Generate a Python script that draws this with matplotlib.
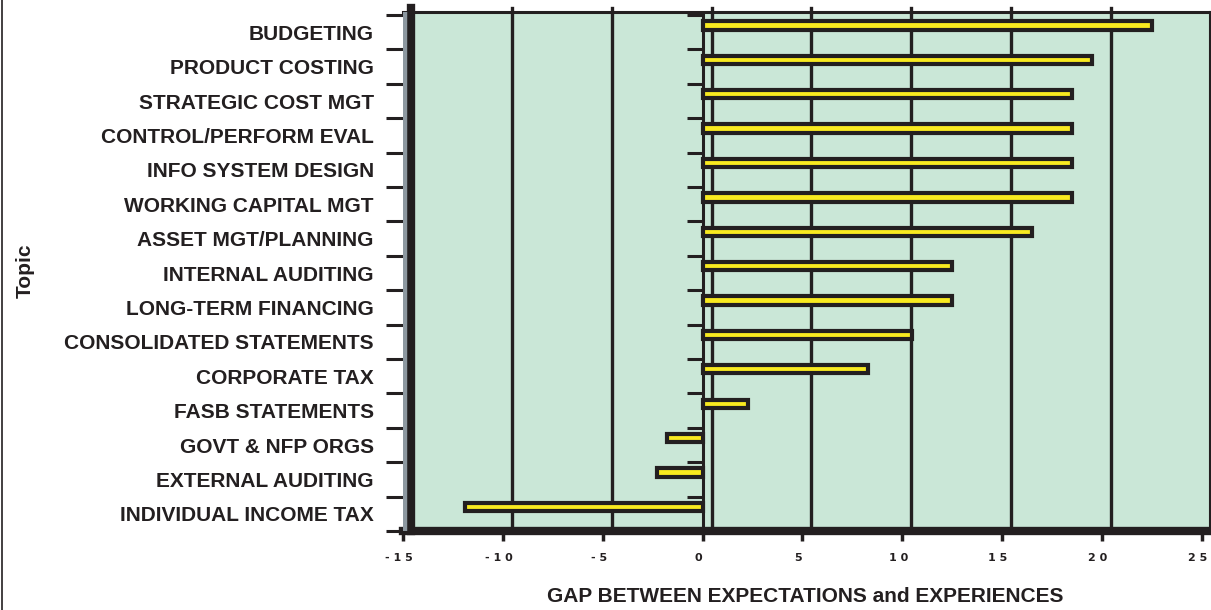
import matplotlib
matplotlib.use("Agg")
import matplotlib.pyplot as plt
from matplotlib import font_manager
from matplotlib.lines import Line2D
import matplotlib.transforms as mtransforms

topics = [
    "BUDGETING", "PRODUCT COSTING", "STRATEGIC COST MGT", "CONTROL/PERFORM EVAL",
    "INFO SYSTEM DESIGN", "WORKING CAPITAL MGT", "ASSET MGT/PLANNING",
    "INTERNAL AUDITING", "LONG-TERM FINANCING", "CONSOLIDATED STATEMENTS",
    "CORPORATE TAX", "FASB STATEMENTS", "GOVT & NFP ORGS", "EXTERNAL AUDITING",
    "INDIVIDUAL INCOME TAX",
]
gap = [22.5, 19.5, 18.5, 18.5, 18.5, 18.5, 16.5, 12.5, 12.5, 10.5,
       8.3, 2.3, -1.8, -2.3, -11.9]
x_ticks = [-15, -10, -5, 0, 5, 10, 15, 20, 25]
x_tick_labels = ["- 1 5", "- 1 0", "- 5", "0", "5", "1 0", "1 5", "2 0", "2 5"]

INK = "#231f20"
WALL = "#cae7d7"
BAR = "#f9ea1f"
DEPTH = 0.45  # back-wall offset of the pseudo-3D grid

names = {f.name for f in font_manager.fontManager.ttflist}
label_font = "Liberation Sans Narrow" if "Liberation Sans Narrow" in names else "Liberation Sans"

W, H = 1211, 610
fig = plt.figure(figsize=(W / 100, H / 100), dpi=100)
ax = fig.add_axes([403 / W, 1 - 531 / H, (1210 - 403) / W, (531 - 12) / H])
ax.set_facecolor(WALL)

ax.set_xlim(-15, 25.41)
ax.set_ylim(len(topics) - 0.5, -0.59)

# back-wall gridlines (poking slightly above the top edge) and front zero line
for v in x_ticks[1:-1]:
    ax.axvline(v + DEPTH, ymin=0, ymax=1.008, color=INK, lw=2.4, zorder=1,
               clip_on=False)
ax.axvline(0, color=INK, lw=2.2, zorder=1)

# side wall on the left
ax.axvline(-14.6, ymin=0, ymax=1.008, color=INK, lw=6, zorder=4, clip_on=False)
ax.axvline(-14.88, color="#8d98a0", lw=3.2, zorder=4)

ypos = list(range(len(topics)))
ax.barh([y - 0.2 for y in ypos], gap, height=0.24, color=BAR,
        edgecolor=INK, linewidth=3.0, zorder=3)

# category tick marks at the zero line
bounds = [y + 0.5 for y in ypos] + [-0.5]
ax.hlines(bounds, -0.8, 0, color=INK, lw=2.2, zorder=2)

ax.spines["left"].set_visible(False)
ax.spines["bottom"].set_linewidth(6)
ax.spines["bottom"].set_color(INK)
ax.spines["top"].set_linewidth(2.2)
ax.spines["top"].set_color(INK)
ax.spines["right"].set_linewidth(1.5)
ax.spines["right"].set_color(INK)

ax.set_yticks(bounds)
ax.set_yticklabels([])
ax.tick_params(axis="y", direction="out", length=12, width=2.2, color=INK)
ax.set_yticks(ypos, minor=True)
ax.set_yticklabels(topics, minor=True, fontfamily=label_font,
                   fontweight="bold", fontsize=15, color=INK)
ax.tick_params(axis="y", which="minor", length=0, pad=21)

ax.set_xticks(x_ticks)
ax.set_xticklabels(x_tick_labels, fontsize=8, fontweight="bold", color=INK)
ax.tick_params(axis="x", direction="out", length=7, width=2.5, color=INK, pad=9)
shift = mtransforms.ScaledTranslation(-4 / 100, 0, fig.dpi_scale_trans)
for lbl in ax.get_xticklabels():
    lbl.set_transform(lbl.get_transform() + shift)

fig.text(805 / W, 1 - 596 / H, "GAP BETWEEN EXPECTATIONS and EXPERIENCES",
         ha="center", va="center", fontfamily=label_font, fontweight="bold",
         fontsize=15, color=INK)
fig.text(25 / W, 1 - 271 / H, "Topic", rotation=90, ha="center", va="center",
         fontfamily=label_font, fontweight="bold", fontsize=15, color=INK)

fig.add_artist(Line2D([2 / W, 2 / W], [0, 1], color=INK, lw=1.2,
                      transform=fig.transFigure))

fig.savefig("out.png", dpi=100)
